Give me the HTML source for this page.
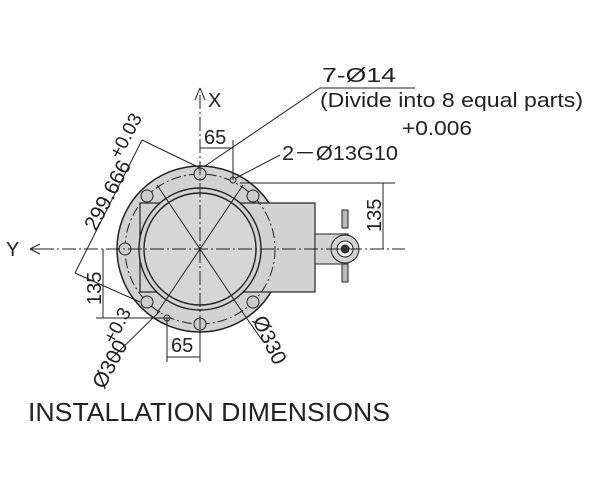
<!DOCTYPE html>
<html><head><style>
body{margin:0;background:#fff;}
svg{display:block;font-family:"Liberation Sans",Arial,sans-serif;}
</style></head><body>
<svg width="600" height="491" viewBox="0 0 600 491" xmlns="http://www.w3.org/2000/svg">
<g stroke="#222" fill="none" stroke-width="1">
<circle cx="200" cy="249" r="83" fill="#d2d2d2" stroke-width="1.5"/>
<rect x="140" y="203" width="175" height="89" fill="#d2d2d2" stroke-width="1.2"/>
<rect x="315" y="234" width="33" height="30" fill="#d2d2d2"/>
<circle cx="345" cy="249" r="14" fill="#d2d2d2"/>
<circle cx="345" cy="249" r="8" fill="#fff"/>
<circle cx="345" cy="249" r="4" fill="#333"/>
<rect x="342" y="210" width="6" height="18" fill="#bbb"/>
<rect x="342" y="264" width="6" height="18" fill="#bbb"/>
<circle cx="200" cy="249" r="61" fill="#d2d2d2" stroke-width="1.4"/>
<circle cx="200" cy="249" r="56" fill="#d6d6d6" stroke-width="1.4"/>
<circle cx="200" cy="249" r="75" stroke-dasharray="10,3,2,3"/>
<g fill="#ccc">
<circle cx="200" cy="174" r="6"/><circle cx="200" cy="324" r="6"/>
<circle cx="125" cy="249" r="6"/>
<circle cx="147" cy="196" r="6"/><circle cx="253" cy="196" r="6"/>
<circle cx="147" cy="302" r="6"/><circle cx="253" cy="302" r="6"/>
<circle cx="233" cy="180" r="3"/><circle cx="167" cy="318" r="3"/>
</g>
<line x1="40" y1="249" x2="405" y2="249" stroke-dasharray="14,3,2,3"/>
<line x1="200" y1="95" x2="200" y2="340" stroke-dasharray="14,3,2,3"/>
<path d="M30 249 L40 244 M30 249 L40 254 M30 249 L48 249"/>
<path d="M200 88 L195 100 M200 88 L205 100"/>
<line x1="157" y1="185" x2="243" y2="313"/>
<line x1="243" y1="185" x2="157" y2="313"/>
<line x1="243" y1="313" x2="262" y2="340"/>
<line x1="160" y1="311" x2="110" y2="360"/>
<line x1="142" y1="140" x2="75" y2="273"/>
<line x1="142" y1="140" x2="200" y2="168"/>
<line x1="75" y1="273" x2="140" y2="302"/>
<polyline points="205,166 320,88 415,88"/>
<polyline points="236,178 280,155"/>
<line x1="240" y1="183" x2="395" y2="183"/>
<line x1="383" y1="183" x2="383" y2="249"/>
<line x1="103" y1="249" x2="103" y2="318"/>
<line x1="96" y1="318" x2="170" y2="318"/>
<line x1="233" y1="140" x2="233" y2="180"/>
<line x1="200" y1="148" x2="233" y2="148"/>
<line x1="167" y1="318" x2="167" y2="362"/>
<line x1="200" y1="330" x2="200" y2="362"/>
<line x1="167" y1="357" x2="200" y2="357"/>
</g>
<g font-size="20" fill="#222">
<text x="6" y="256">Y</text>
<text x="208" y="107">X</text>
<text x="204" y="144">65</text>
<text x="171" y="352">65</text>
<text x="322" y="82" textLength="74" lengthAdjust="spacingAndGlyphs">7-Ø14</text>
<text x="320" y="107" textLength="263" lengthAdjust="spacingAndGlyphs">(Divide into 8 equal parts)</text>
<text x="282" y="160" textLength="116" lengthAdjust="spacingAndGlyphs">2－Ø13G10</text>
<text x="402" y="135" textLength="70" lengthAdjust="spacingAndGlyphs">+0.006</text>
<text transform="translate(381,232) rotate(-90)">135</text>
<text transform="translate(101,305) rotate(-90)">135</text>
<text transform="translate(96,232) rotate(-62)" font-size="21">299.666</text>
<text transform="translate(120,160) rotate(-62)" font-size="19">+0.03</text>
<text transform="translate(104,390) rotate(-62)" font-size="21">Ø300</text>
<text transform="translate(114,345) rotate(-62)" font-size="19">+0.3</text>
<text transform="translate(252,320) rotate(64)" font-size="21">Ø330</text>
<text x="28" y="421" font-size="26" textLength="362" lengthAdjust="spacingAndGlyphs">INSTALLATION DIMENSIONS</text>
</g>
</svg>
</body></html>
